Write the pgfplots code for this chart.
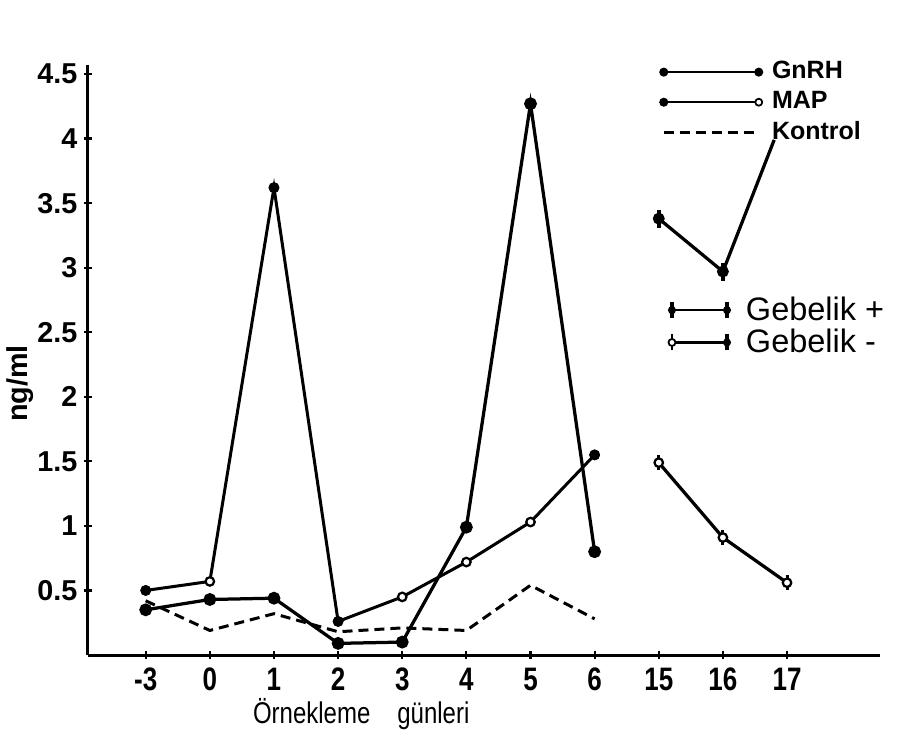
\documentclass[border=0pt]{standalone}
\usepackage{fontspec}
\setmainfont{Liberation Sans}
\newfontfamily\condfont{Liberation Sans}[FakeStretch=0.8]
\usepackage{pgfplots}
\pgfplotsset{compat=1.18}
\begin{document}
\begin{tikzpicture}
\begin{axis}[name=main,
  scale only axis, width=316.8pt, height=236pt,
  xmin=-0.9, xmax=11.45, ymin=0, ymax=4.57,
  axis x line=bottom, axis y line=left,
  axis line style={-, line width=1.2pt},
  tick align=center, major tick length=3.5pt,
  tick style={line width=0.9pt, black},
  xtick={0,1,2,3,4,5,6,7,8,9,10},
  xticklabels={-3,0,1,2,3,4,5,6,15,16,17},
  ytick={0.5,1,1.5,2,2.5,3,3.5,4,4.5},
  yticklabels={0.5,1,1.5,2,2.5,3,3.5,4,4.5},
  x tick label style={font=\condfont\bfseries\fontsize{13}{15}\selectfont, yshift=0pt},
  y tick label style={font=\bfseries\fontsize{11.5}{13}\selectfont, xshift=1pt},
  xlabel={\condfont\fontsize{12}{14}\selectfont Örnekleme\hspace{0.9em}günleri},
  xlabel style={at={(axis description cs:0.345,-0.1)}, anchor=center},
  ylabel={\bfseries\fontsize{11.5}{13}\selectfont ng/ml},
  ylabel style={at={(axis description cs:-0.086,0.46)}, anchor=center},
  clip=false,
  legend style={draw=none, fill=none, at={(axis cs:8.0,4.62)}, anchor=north west,
    font=\bfseries\fontsize{10}{11}\selectfont, cells={anchor=west}, row sep=1.6pt,
    inner sep=0pt, column sep=0pt,
    nodes={inner sep=1pt}},
  legend cell align=left,
]
% Kontrol
\addplot[black, line width=1.2pt, dash pattern=on 4pt off 2.4pt, forget plot]
  coordinates {(0,0.42) (1,0.19) (2,0.32) (3,0.18) (4,0.21) (5,0.19) (6,0.54) (7,0.28)};
% MAP
\addplot[black, line width=1.2pt, mark=*, mark size=1.7pt, mark options={fill=white, line width=0.9pt}, forget plot]
  coordinates {(0,0.50) (1,0.57) (2,3.62) (3,0.26) (4,0.45) (5,0.72) (6,1.03) (7,1.55)};
\addplot[only marks, black, mark=*, mark size=1.9pt, forget plot]
  coordinates {(0,0.50) (2,3.62) (3,0.26) (7,1.55)};
% GnRH
\addplot[black, line width=1.3pt, mark=*, mark size=1.9pt, forget plot]
  coordinates {(0,0.35) (1,0.43) (2,0.44) (3,0.09) (4,0.10) (5,0.99) (6,4.27) (7,0.80)};
% Gebelik +
\addplot[black, line width=1.3pt, mark=*, mark size=1.7pt, forget plot,
  error bars/.cd, y dir=both, y explicit, error mark=none,
  error bar style={line width=1.8pt}]
  coordinates {(8,3.38) +- (0,0.07) (9,2.97) +- (0,0.07)};
\addplot[black, line width=1.3pt, forget plot] coordinates {(9,2.97) (9.8,3.99)};
% Gebelik -
\addplot[black, line width=1.3pt, mark=*, mark size=1.7pt, mark options={fill=white, line width=0.9pt}, forget plot,
  error bars/.cd, y dir=both, y explicit, error mark=none,
  error bar style={line width=1.2pt}]
  coordinates {(8,1.49) +- (0,0.06) (9,0.91) +- (0,0.06) (10,0.56) +- (0,0.06)};
% legend
\addlegendimage{legend image code/.code={
  \draw[line width=0.9pt] (0pt,0pt) -- (38pt,0pt);
  \fill (0pt,0pt) circle (1.6pt); \fill (38pt,0pt) circle (1.6pt);}}
\addlegendentry{\hspace{2.5pt}GnRH}
\addlegendimage{legend image code/.code={
  \draw[line width=0.9pt] (0pt,0pt) -- (38pt,0pt);
  \fill (0pt,0pt) circle (1.6pt); \draw[fill=white, line width=0.7pt] (38pt,0pt) circle (1.4pt);}}
\addlegendentry{\hspace{2.5pt}MAP}
\addlegendimage{legend image code/.code={
  \draw[line width=1.2pt, dash pattern=on 4pt off 2.4pt] (0pt,0pt) -- (38pt,0pt);}}
\addlegendentry{\hspace{2.5pt}Kontrol}
\end{axis}
\begin{axis}[
  scale only axis, width=316.8pt, height=236pt,
  xmin=-0.9, xmax=11.45, ymin=0, ymax=4.57,
  hide axis,
  legend style={draw=none, fill=none, at={(axis cs:8.13,2.8)}, anchor=north west,
    font=\fontsize{13}{15}\selectfont, cells={anchor=west}, row sep=0pt,
    inner sep=0pt, nodes={inner sep=1pt}},
  legend cell align=left,
]
\addlegendimage{legend image code/.code={
  \draw[line width=1pt] (0pt,0pt) -- (22pt,0pt);
  \draw[line width=1.6pt] (0pt,-3.2pt) -- (0pt,3.2pt); \draw[line width=1.6pt] (22pt,-3.2pt) -- (22pt,3.2pt);
  \fill (0pt,0pt) circle (1.4pt); \fill (22pt,0pt) circle (1.4pt);}}
\addlegendentry{\hspace{5pt}Gebelik +}
\addlegendimage{legend image code/.code={
  \draw[line width=1pt] (0pt,0pt) -- (22pt,0pt);
  \draw[line width=1pt] (0pt,-3.2pt) -- (0pt,3.2pt); \draw[line width=1.6pt] (22pt,-3.2pt) -- (22pt,3.2pt);
  \draw[fill=white, line width=0.7pt] (0pt,0pt) circle (1.4pt); \fill (22pt,0pt) circle (1.4pt);}}
\addlegendentry{\hspace{5pt}Gebelik -}
\end{axis}
\pgfresetboundingbox
\path ([shift={(-35.2pt,-29.6pt)}]main.south west) rectangle ([shift={(14pt,26pt)}]main.north east);
\end{tikzpicture}
\end{document}
